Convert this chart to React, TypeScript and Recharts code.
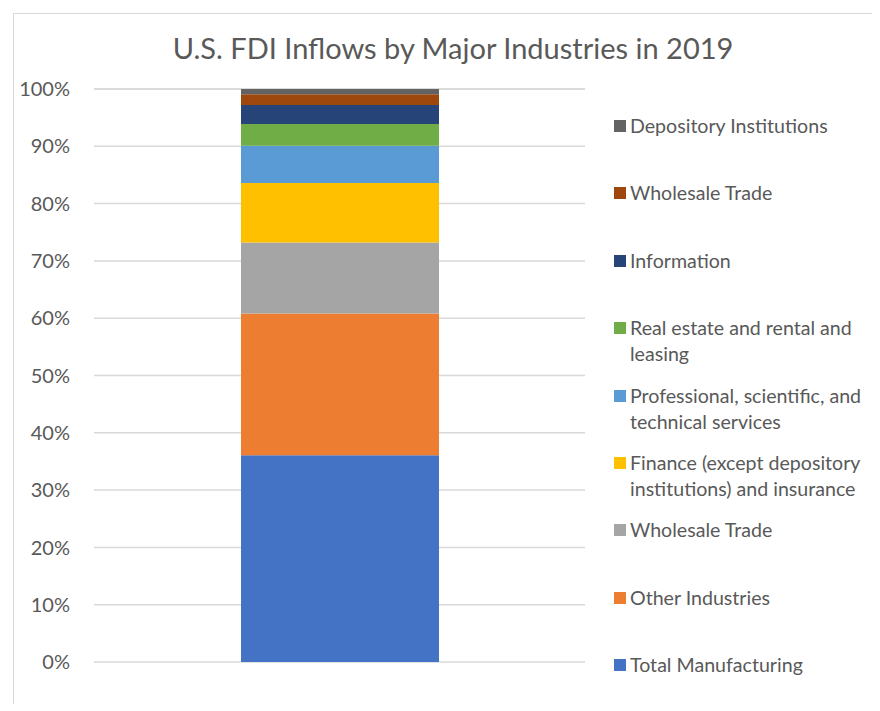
import React from 'react';
import { BarChart, Bar, XAxis, YAxis, CartesianGrid } from 'recharts';

// one stacked column, shares in percent (bottom segment first)
const years = ['2019'];
const seriesNames = [
  'Total Manufacturing',
  'Other Industries',
  'Wholesale Trade',
  'Finance (except depository institutions) and insurance',
  'Professional, scientific, and technical services',
  'Real estate and rental and leasing',
  'Information',
  'Wholesale Trade',
  'Depository Institutions',
];
const shares2019 = [36.1, 24.7, 12.4, 10.4, 6.5, 3.8, 3.3, 1.9, 0.9];
const seriesColors = [
  '#4472C4',
  '#ED7D31',
  '#A5A5A5',
  '#FFC000',
  '#5B9BD5',
  '#70AD47',
  '#264478',
  '#9E480E',
  '#636363',
];
const yTicks = [0, 10, 20, 30, 40, 50, 60, 70, 80, 90, 100];

const FONT = 'Lato, "Open Sans", sans-serif';
const TEXT = '#595959';

const chartData = years.map((year) => {
  const row: Record<string, string | number> = { year };
  shares2019.forEach((v, i) => {
    row[`s${i}`] = v;
  });
  return row;
});

const LegendBox = () => {
  // Excel lists the legend top-down in reverse stack order
  const items = seriesNames.map((name, i) => ({ name, color: seriesColors[i] })).reverse();
  return (
    <div style={{ position: 'absolute', left: 600, top: 99, width: 262, fontFamily: FONT }}>
      {items.map((it, i) => (
        <div key={i} style={{ height: 67.4, display: 'flex', alignItems: 'flex-start' }}>
          <div
            style={{
              width: 12,
              height: 12,
              background: it.color,
              marginTop: 7,
              marginRight: 4,
              flexShrink: 0,
            }}
          />
          <div style={{ fontSize: 19.6, lineHeight: '26px', color: TEXT, width: 244 }}>{it.name}</div>
        </div>
      ))}
    </div>
  );
};

export default function App() {
  return (
    <div
      style={{
        position: 'relative',
        marginLeft: 5,
        marginTop: 5,
        width: 866,
        height: 690,
        borderLeft: '1px solid #d9d9d9',
        borderTop: '1px solid #d9d9d9',
        background: '#fff',
      }}
    >
      <div
        style={{
          position: 'absolute',
          left: 0,
          top: 18,
          width: 878,
          textAlign: 'center',
          fontFamily: FONT,
          fontSize: 29,
          lineHeight: '32px',
          color: TEXT,
        }}
      >
        U.S. FDI Inflows by Major Industries in 2019
      </div>
      <BarChart
        width={866}
        height={690}
        data={chartData}
        margin={{ top: 75, right: 295, bottom: 42, left: 0 }}
        style={{ fontFamily: FONT }}
      >
        <CartesianGrid vertical={false} stroke="#d9d9d9" strokeWidth={1.5} />
        <XAxis dataKey="year" hide />
        <YAxis
          type="number"
          domain={[0, 100]}
          ticks={yTicks}
          width={80}
          axisLine={false}
          tickLine={false}
          tickSize={0}
          tickMargin={24}
          tickFormatter={(v: number) => `${v}%`}
          tick={{ fill: TEXT, fontSize: 20, fontFamily: FONT }}
        />
        {seriesNames.map((name, i) => (
          <Bar
            key={i}
            dataKey={`s${i}`}
            name={name}
            stackId="a"
            fill={seriesColors[i]}
            barSize={198}
            isAnimationActive={false}
          />
        ))}
      </BarChart>
      <LegendBox />
    </div>
  );
}
